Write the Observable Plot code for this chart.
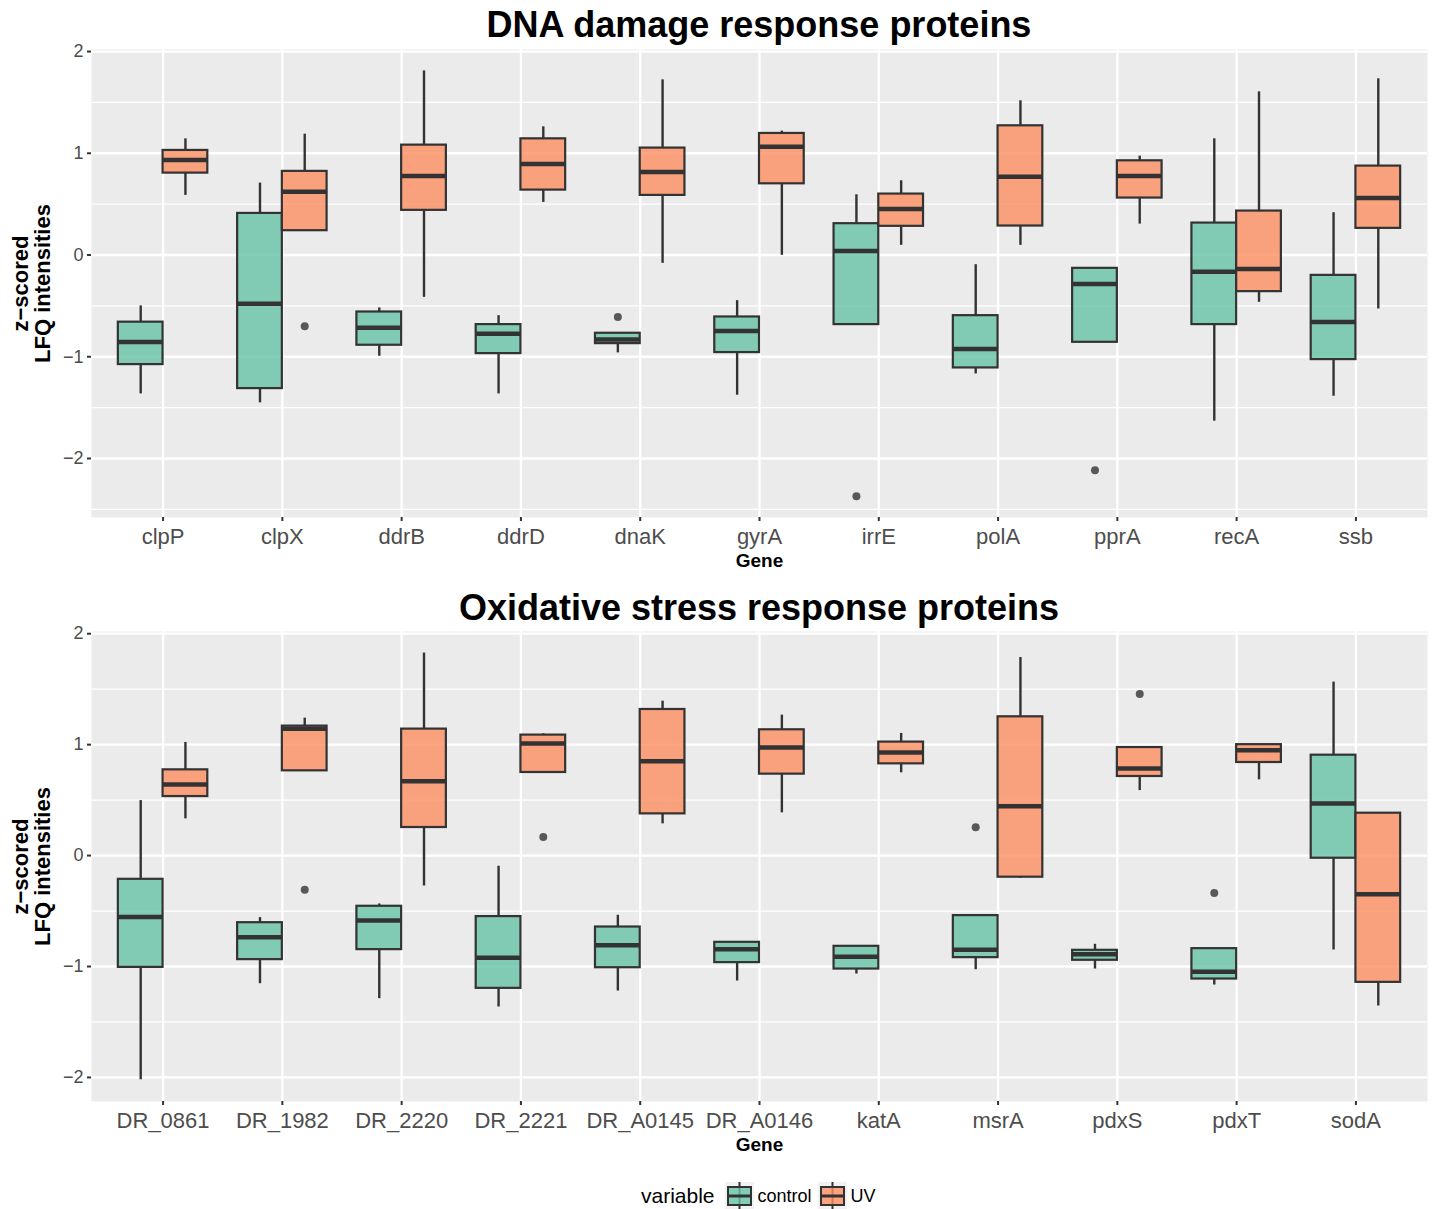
<!DOCTYPE html>
<html>
<head>
<meta charset="utf-8">
<script src="https://cdn.jsdelivr.net/npm/d3@7"></script>
<script src="https://cdn.jsdelivr.net/npm/@observablehq/plot@0.6"></script>
<style>
  html, body { margin: 0; padding: 0; background: #fff; }
  body { width: 1434px; height: 1209px; position: relative; font-family: "Liberation Sans", Arial, Helvetica, sans-serif; overflow: hidden; }
  .title { position: absolute; left: 91px; width: 1336px; text-align: center; font-weight: bold; font-size: 36px; line-height: 36px; color: #000; }
  .panel { position: absolute; left: 0; }
  .legend { position: absolute; top: 1182px; left: 641px; display: flex; align-items: center; height: 28px; }
  .legend span { font-size: 18px; color: #000; }
  .legend .lt { font-size: 21px; margin-right: 10px; }
  .legend svg { display: block; margin-right: 4px; }
</style>
</head>
<body>
<div class="title" id="t1" style="top:7px">DNA damage response proteins</div>
<div class="panel" id="p1" style="top:40px"></div>
<div class="title" id="t2" style="top:590px">Oxidative stress response proteins</div>
<div class="panel" id="p2" style="top:620px"></div>
<div class="legend" id="legend"></div>
<script>
// ---------------- DATA ----------------
const seriesNames = ["control", "UV"];
const seriesColors = ["#66c2a5", "#fc8d62"];

// Panel 1: DNA damage response proteins
const genesDNA = ["clpP","clpX","ddrB","ddrD","dnaK","gyrA","irrE","polA","pprA","recA","ssb"];
const dnaControlLo  = [-1.365,-1.453,-0.995,-1.365,-0.962,-1.378,-0.684,-1.169,-0.858,-1.633,-1.388];
const dnaControlQ1  = [-1.077,-1.313,-0.887,-0.969,-0.871,-0.959,-0.684,-1.110,-0.858,-0.684,-1.028];
const dnaControlMed = [-0.855,-0.478,-0.714,-0.773,-0.831,-0.746, 0.039,-0.923,-0.285,-0.164,-0.658];
const dnaControlQ3  = [-0.660, 0.409,-0.560,-0.684,-0.769,-0.609, 0.308,-0.596,-0.131, 0.314,-0.200];
const dnaControlHi  = [-0.500, 0.707,-0.520,-0.596,-0.769,-0.448, 0.592,-0.095,-0.131, 1.142, 0.416];
const dnaUVLo  = [0.586, 0.239,-0.416,0.517,-0.082,-0.003,0.095,0.095,0.304,-0.465,-0.530];
const dnaUVQ1  = [0.805, 0.239, 0.439,0.638, 0.586, 0.700,0.282,0.285,0.560,-0.360, 0.262];
const dnaUVMed = [0.933, 0.622, 0.776,0.894, 0.815, 1.064,0.452,0.769,0.776,-0.137, 0.560];
const dnaUVQ3  = [1.028, 0.822, 1.080,1.142, 1.051, 1.195,0.599,1.270,0.926, 0.432, 0.874];
const dnaUVHi  = [1.142, 1.188, 1.810,1.260, 1.722, 1.218,0.730,1.516,0.972, 1.604, 1.732];
const dnaOutlierGenes  = ["dnaK","irrE","pprA","clpX"];
const dnaOutlierSeries = ["control","control","control","UV"];
const dnaOutlierValues = [-0.609,-2.37,-2.115,-0.70];

// Panel 2: Oxidative stress response proteins
const genesOx = ["DR_0861","DR_1982","DR_2220","DR_2221","DR_A0145","DR_A0146","katA","msrA","pdxS","pdxT","sodA"];
const oxControlLo  = [-2.021,-1.155,-1.290,-1.365,-1.221,-1.131,-1.068,-1.029,-1.023,-1.167,-0.851];
const oxControlQ1  = [-1.008,-0.938,-0.848,-1.197,-1.011,-0.965,-1.023,-0.920,-0.944,-1.113,-0.024];
const oxControlMed = [-0.553,-0.737,-0.586,-0.920,-0.809,-0.845,-0.911,-0.848,-0.890,-1.047, 0.469];
const oxControlQ3  = [-0.214,-0.605,-0.457,-0.550,-0.644,-0.782,-0.818,-0.541,-0.854,-0.839, 0.905];
const oxControlHi  = [ 0.496,-0.559,-0.436,-0.096,-0.538,-0.776,-0.818,-0.541,-0.800,-0.839, 1.564];
const oxUVLo  = [0.331,0.764,-0.274,0.749,0.286,0.385,0.746,-0.205,0.586,0.683,-1.356];
const oxUVQ1  = [0.532,0.764, 0.253,0.749,0.376,0.734,0.827,-0.195,0.713,0.839,-1.143];
const oxUVMed = [0.641,1.143, 0.671,1.010,0.851,0.974,0.929, 0.445,0.785,0.950,-0.349];
const oxUVQ3  = [0.773,1.167, 1.140,1.086,1.317,1.134,1.023, 1.251,0.974,1.000, 0.382];
const oxUVHi  = [1.020,1.239, 1.826,1.098,1.392,1.266,1.101, 1.786,0.974,1.008, 0.385];
const oxOutlierGenes  = ["msrA","pdxT","DR_1982","DR_2221","pdxS"];
const oxOutlierSeries = ["control","control","UV","UV","UV"];
const oxOutlierValues = [0.256,-0.337,-0.307,0.168,1.456];

// Axis ticks
const yTicks = [-2, -1, 0, 1, 2];
const yMinorDNA = [-2.5, -1.5, -0.5, 0.5, 1.5];
const yMinorOx = [-1.5, -0.5, 0.5, 1.5];
const yDomainDNA = [-2.58, 2.02];
const yDomainOx = [-2.217, 2.02];

// ---------------- BUILD ----------------
const BOXW = 0.375; // dodged box width (category units)
const FONT = "Liberation Sans, Arial, Helvetica, sans-serif";
const fmtY = d => (d < 0 ? "\u2212" : "") + Math.abs(d);

function makeRows(genes, cs, us) {
  const rows = [];
  genes.forEach((g, i) => {
    rows.push({gene: g, i, series: "control", lo: cs[0][i], q1: cs[1][i], med: cs[2][i], q3: cs[3][i], hi: cs[4][i]});
    rows.push({gene: g, i, series: "UV", lo: us[0][i], q1: us[1][i], med: us[2][i], q3: us[3][i], hi: us[4][i]});
  });
  return rows;
}
const left = d => d.i + (d.series === "control" ? -BOXW : 0);
const right = d => d.i + (d.series === "control" ? 0 : BOXW);
const center = d => d.i + (d.series === "control" ? -BOXW / 2 : BOXW / 2);

function panel(genes, rows, outliers, yDomain, minor, opts) {
  const idx = genes.map((g, i) => i);
  return Plot.plot({
    width: 1434,
    height: opts.height,
    marginLeft: 91,
    marginRight: 7,
    marginTop: opts.marginTop,
    marginBottom: opts.marginBottom,
    style: {fontFamily: FONT, background: "transparent", overflow: "visible"},
    x: {type: "linear", domain: [-0.6, genes.length - 1 + 0.6], axis: null},
    y: {domain: yDomain, axis: null},
    color: {domain: seriesNames, range: seriesColors},
    marks: [
      Plot.frame({fill: "#ebebeb", stroke: null}),
      Plot.ruleY(minor, {stroke: "white", strokeWidth: 1.2}),
      Plot.ruleY(yTicks, {stroke: "white", strokeWidth: 2.3}),
      Plot.ruleX(idx, {stroke: "white", strokeWidth: 2.3}),
      Plot.axisY(yTicks, {tickSize: 4, tickPadding: 4, fontSize: 18, stroke: "#333", fill: "#4d4d4d", strokeWidth: 2, label: null,
        tickFormat: fmtY}),
      Plot.axisX(idx, {tickSize: 4, tickPadding: 7, fontSize: 22, stroke: "#333", fill: "#4d4d4d", strokeWidth: 2, label: null,
        tickFormat: i => genes[i]}),
      // whiskers
      Plot.ruleX(rows, {x: center, y1: "lo", y2: "q1", stroke: "#333", strokeWidth: 2.4}),
      Plot.ruleX(rows, {x: center, y1: "q3", y2: "hi", stroke: "#333", strokeWidth: 2.4}),
      // boxes
      Plot.rect(rows, {x1: left, x2: right, y1: "q1", y2: "q3", fill: "series", fillOpacity: 0.8, stroke: "#333", strokeWidth: 2.2}),
      // medians
      Plot.ruleY(rows, {x1: left, x2: right, y: "med", stroke: "#333", strokeWidth: 4.5}),
      // outliers
      Plot.dot(outliers, {x: center, y: "value", r: 4, fill: "#333", fillOpacity: 0.8, stroke: null}),
      // axis titles
      Plot.text(["Gene"], {frameAnchor: "bottom", dy: opts.geneDy, fontWeight: "bold", fontSize: 19, fill: "#000", lineAnchor: "middle", textAnchor: "middle"}),
      Plot.text(["z\u2212scored\nLFQ intensities"], {frameAnchor: "left", dx: -60, rotate: -90, fontWeight: "bold", fontSize: 22, fill: "#000", lineHeight: 1.0, lineAnchor: "middle", textAnchor: "middle"})
    ]
  });
}

const rowsDNA = makeRows(genesDNA,
  [dnaControlLo, dnaControlQ1, dnaControlMed, dnaControlQ3, dnaControlHi],
  [dnaUVLo, dnaUVQ1, dnaUVMed, dnaUVQ3, dnaUVHi]);
const outDNA = dnaOutlierGenes.map((g, k) => ({gene: g, i: genesDNA.indexOf(g), series: dnaOutlierSeries[k], value: dnaOutlierValues[k]}));

const rowsOx = makeRows(genesOx,
  [oxControlLo, oxControlQ1, oxControlMed, oxControlQ3, oxControlHi],
  [oxUVLo, oxUVQ1, oxUVMed, oxUVQ3, oxUVHi]);
const outOx = oxOutlierGenes.map((g, k) => ({gene: g, i: genesOx.indexOf(g), series: oxOutlierSeries[k], value: oxOutlierValues[k]}));

document.getElementById("p1").appendChild(
  panel(genesDNA, rowsDNA, outDNA, yDomainDNA, yMinorDNA, {height: 530, marginTop: 9, marginBottom: 53, geneDy: 43}));
document.getElementById("p2").appendChild(
  panel(genesOx, rowsOx, outOx, yDomainOx, yMinorOx, {height: 530, marginTop: 11, marginBottom: 49, geneDy: 43}));

// Legend
const legend = document.getElementById("legend");
const lt = document.createElement("span");
lt.className = "lt";
lt.textContent = "variable";
legend.appendChild(lt);
seriesNames.forEach((name, k) => {
  const ns = "http://www.w3.org/2000/svg";
  const svg = document.createElementNS(ns, "svg");
  svg.setAttribute("width", 29); svg.setAttribute("height", 28);
  svg.innerHTML =
    `<rect x="0" y="0" width="29" height="28" fill="#f2f2f2"/>` +
    `<line x1="14.5" y1="0" x2="14.5" y2="28" stroke="#333" stroke-width="2"/>` +
    `<rect x="3" y="5" width="23" height="18" fill="${seriesColors[k]}" fill-opacity="0.8" stroke="#333" stroke-width="2"/>` +
    `<line x1="3" y1="14" x2="26" y2="14" stroke="#333" stroke-width="3"/>`;
  legend.appendChild(svg);
  const s = document.createElement("span");
  s.textContent = name;
  s.style.marginRight = "6px";
  legend.appendChild(s);
});
</script>
</body>
</html>
